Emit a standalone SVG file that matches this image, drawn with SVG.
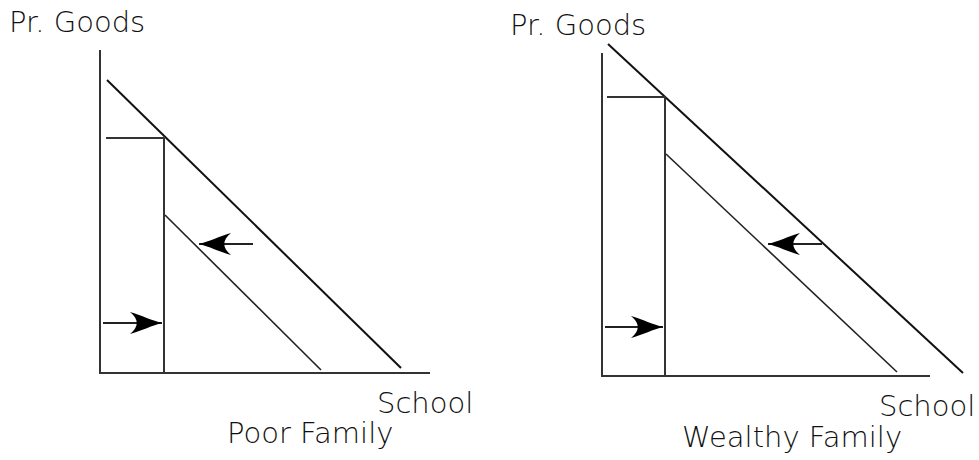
<svg xmlns="http://www.w3.org/2000/svg" width="979" height="460" viewBox="0 0 979 460">
<defs>
<style>
.ax{stroke:#333;stroke-width:2;fill:none}
.ln{stroke:#111;stroke-width:2;fill:none}
.ln2{stroke:#222;stroke-width:1.6;fill:none}
.ar{stroke:#222;stroke-width:2;fill:none;marker-end:url(#head)}
.lbl{font-family:"DejaVu Sans",sans-serif;font-weight:200;font-size:29px;fill:#111}
</style>
<marker id="head" markerUnits="userSpaceOnUse" viewBox="-33 -12 34 24" refX="0" refY="0" markerWidth="34" markerHeight="24" orient="auto">
<path d="M0,0 C-9,-2 -21,-8 -32,-11 C-23,-4 -23,4 -32,11 C-21,8 -9,2 0,0 Z" fill="#000"/>
</marker>
</defs>
<rect width="979" height="460" fill="#fff"/>
<g id="poor">
<line class="ax" x1="100" y1="50" x2="100" y2="373"/>
<line class="ax" x1="99" y1="373" x2="430" y2="373"/>
<line class="ln" x1="107" y1="80" x2="401" y2="368"/>
<line class="ax" x1="106" y1="138" x2="164" y2="138"/>
<line class="ax" x1="164" y1="138" x2="164" y2="373"/>
<line class="ln2" x1="165" y1="215" x2="321" y2="370"/>
<text class="lbl" x="9" y="32">Pr. Goods</text>
<text class="lbl" x="377" y="413">School</text>
<text class="lbl" x="227" y="443">Poor Family</text>
</g>
<g id="wealthy">
<line class="ax" x1="602" y1="53" x2="602" y2="376"/>
<line class="ax" x1="601" y1="376" x2="930" y2="376"/>
<line class="ln" x1="608" y1="44" x2="963" y2="373"/>
<line class="ax" x1="607" y1="97" x2="665" y2="97"/>
<line class="ax" x1="665" y1="97" x2="665" y2="376"/>
<line class="ln2" x1="666" y1="154" x2="897" y2="372"/>
<text class="lbl" x="510" y="35">Pr. Goods</text>
<text class="lbl" x="879" y="416">School</text>
<text class="lbl" x="682" y="447">Wealthy Family</text>
</g>
<g id="connectors">
<line class="ar" x1="253" y1="244" x2="199" y2="244"/>
<line class="ar" x1="103" y1="323" x2="162" y2="323"/>
<line class="ar" x1="822" y1="244" x2="768" y2="244"/>
<line class="ar" x1="605" y1="327" x2="663" y2="327"/>
</g>
</svg>
